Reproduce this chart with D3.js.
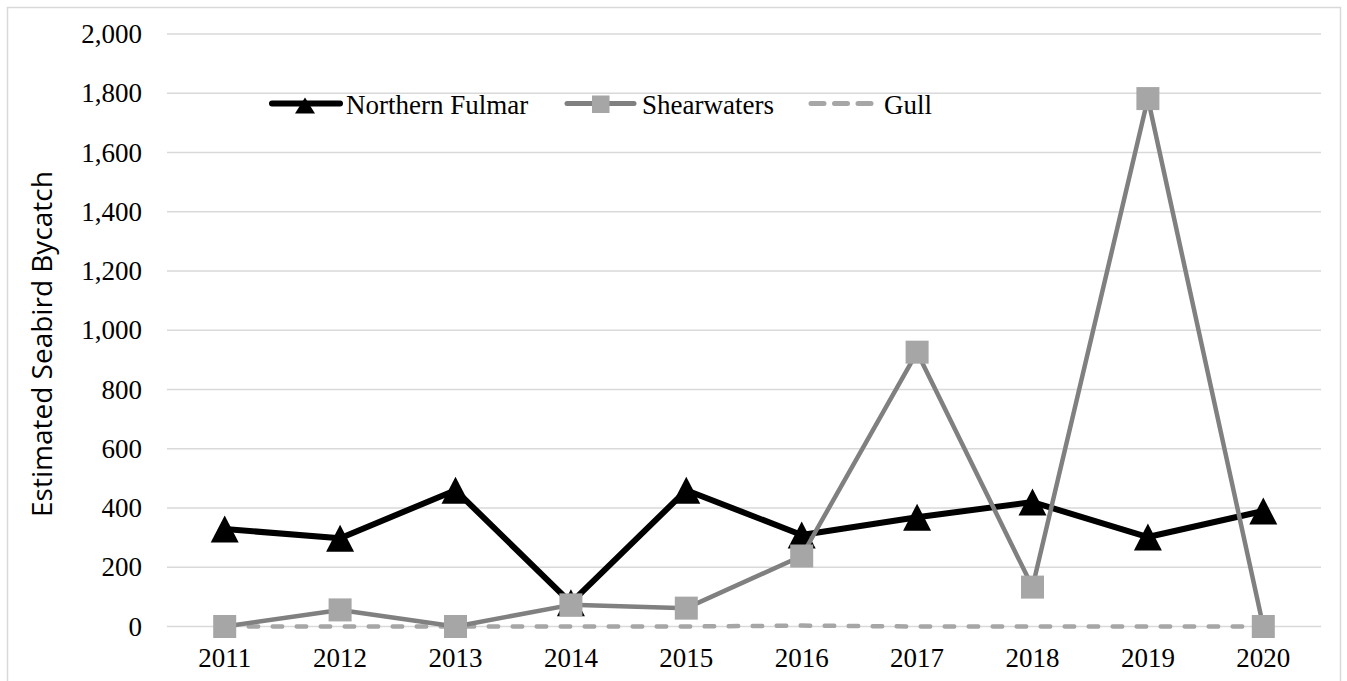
<!DOCTYPE html>
<meta charset="utf-8">
<style>
body { margin: 0; background: #fff; }
.tick text { font-family: "Liberation Serif", "Times New Roman", serif; font-size: 27px; fill: #000; }
.grid line { stroke: #d9d9d9; stroke-width: 1.5px; }
.legend text { font-family: "Liberation Serif", "Times New Roman", serif; font-size: 27px; fill: #000; }
</style>
<svg width="1347" height="681"></svg>
<script src="https://d3js.org/d3.v7.min.js"></script>
<script>

var years = ["2011", "2012", "2013", "2014", "2015", "2016", "2017", "2018", "2019", "2020"];
var fulmar = [329, 298, 460, 80, 460, 309, 369, 420, 302, 390];
var shearwaters = [0, 56, 0, 73, 62, 238, 926, 133, 1782, 0];
var gull = [0, 0, 0, 0, 0, 3, 0, 0, 0, 0];
var yTicks = [0, 200, 400, 600, 800, 1000, 1200, 1400, 1600, 1800, 2000];

var svg = d3.select("svg"),
    margin = {top: 34, right: 26, bottom: 54, left: 167},
    width = 1347 - margin.left - margin.right,
    height = 681 - margin.top - margin.bottom;

// outer frame
svg.append("rect")
    .attr("x", 7.5).attr("y", 7.5)
    .attr("width", 1333).attr("height", 690)
    .attr("fill", "none")
    .attr("stroke", "#d9d9d9")
    .attr("stroke-width", 1.5);

var g = svg.append("g").attr("transform", "translate(" + margin.left + "," + margin.top + ")");

var x = d3.scaleBand().domain(years).range([0, width]),
    y = d3.scaleLinear().domain([0, 2000]).range([592.5, 0]);

function cx(i) { return x(years[i]) + x.bandwidth() / 2; }

// triangle marker, w wide and h tall, centred on the point
function triangle(w, h) {
  var p = d3.path();
  p.moveTo(0, -h / 2);
  p.lineTo(w / 2, h / 2);
  p.lineTo(-w / 2, h / 2);
  p.closePath();
  return p.toString();
}

// gridlines
g.append("g")
    .attr("class", "grid")
  .selectAll("line")
  .data(yTicks)
  .enter().append("line")
    .attr("x1", 0).attr("x2", width)
    .attr("y1", function(d) { return y(d); })
    .attr("y2", function(d) { return y(d); });

// y axis labels
var yAxis = g.append("g")
    .call(d3.axisLeft(y).tickValues(yTicks).tickSize(0).tickPadding(25).tickFormat(d3.format(",")));
yAxis.select(".domain").remove();

// x axis labels
var xAxis = g.append("g")
    .attr("transform", "translate(0," + y(0) + ")")
    .call(d3.axisBottom(x).tickSize(0).tickPadding(21));
xAxis.select(".domain").remove();

svg.append("text")
    .attr("transform", "translate(52,344) rotate(-90)")
    .attr("text-anchor", "middle")
    .style("font-family", "'Open Sans', sans-serif")
    .style("font-size", "28px")
    .text("Estimated Seabird Bycatch");

var line = d3.line()
    .x(function(d, i) { return cx(i); })
    .y(function(d) { return y(d); });

// gull dashed
g.append("path")
    .datum(gull)
    .attr("d", line)
    .attr("fill", "none")
    .attr("stroke", "#a6a6a6")
    .attr("stroke-width", 4.5)
    .attr("stroke-dasharray", "9.5,14.5")
    .attr("stroke-linecap", "round");

// fulmar
g.append("path")
    .datum(fulmar)
    .attr("d", line)
    .attr("fill", "none")
    .attr("stroke", "#000")
    .attr("stroke-width", 6)
    .attr("stroke-linejoin", "round");

g.selectAll(".tri")
  .data(fulmar)
  .enter().append("path")
    .attr("class", "tri")
    .attr("d", triangle(28, 27))
    .attr("fill", "#000")
    .attr("transform", function(d, i) { return "translate(" + cx(i) + "," + y(d) + ")"; });

// shearwaters
g.append("path")
    .datum(shearwaters)
    .attr("d", line)
    .attr("fill", "none")
    .attr("stroke", "#808080")
    .attr("stroke-width", 4.5)
    .attr("stroke-linejoin", "round");

g.selectAll(".sq")
  .data(shearwaters)
  .enter().append("rect")
    .attr("class", "sq")
    .attr("x", function(d, i) { return cx(i) - 11.5; })
    .attr("y", function(d) { return y(d) - 11.5; })
    .attr("width", 23).attr("height", 23)
    .attr("fill", "#a6a6a6");

// legend
var legend = svg.append("g").attr("class", "legend");
var ly = 103.5;

legend.append("line").attr("x1", 272).attr("x2", 340).attr("y1", ly).attr("y2", ly)
    .attr("stroke", "#000").attr("stroke-width", 6).attr("stroke-linecap", "round");
legend.append("path").attr("d", triangle(20, 16))
    .attr("transform", "translate(305," + (ly + 2) + ")").attr("fill", "#000");
legend.append("text").attr("x", 346).attr("y", ly + 10).text("Northern Fulmar");

legend.append("line").attr("x1", 567).attr("x2", 634).attr("y1", ly).attr("y2", ly)
    .attr("stroke", "#808080").attr("stroke-width", 5).attr("stroke-linecap", "round");
legend.append("rect").attr("x", 592).attr("y", ly - 8).attr("width", 17.5).attr("height", 17.5)
    .attr("fill", "#a6a6a6");
legend.append("text").attr("x", 642).attr("y", ly + 10).text("Shearwaters");

legend.append("line").attr("x1", 811).attr("x2", 871).attr("y1", ly).attr("y2", ly)
    .attr("stroke", "#a6a6a6").attr("stroke-width", 5).attr("stroke-linecap", "round")
    .attr("stroke-dasharray", "13,10.5");
legend.append("text").attr("x", 884).attr("y", ly + 10).text("Gull");

</script>
